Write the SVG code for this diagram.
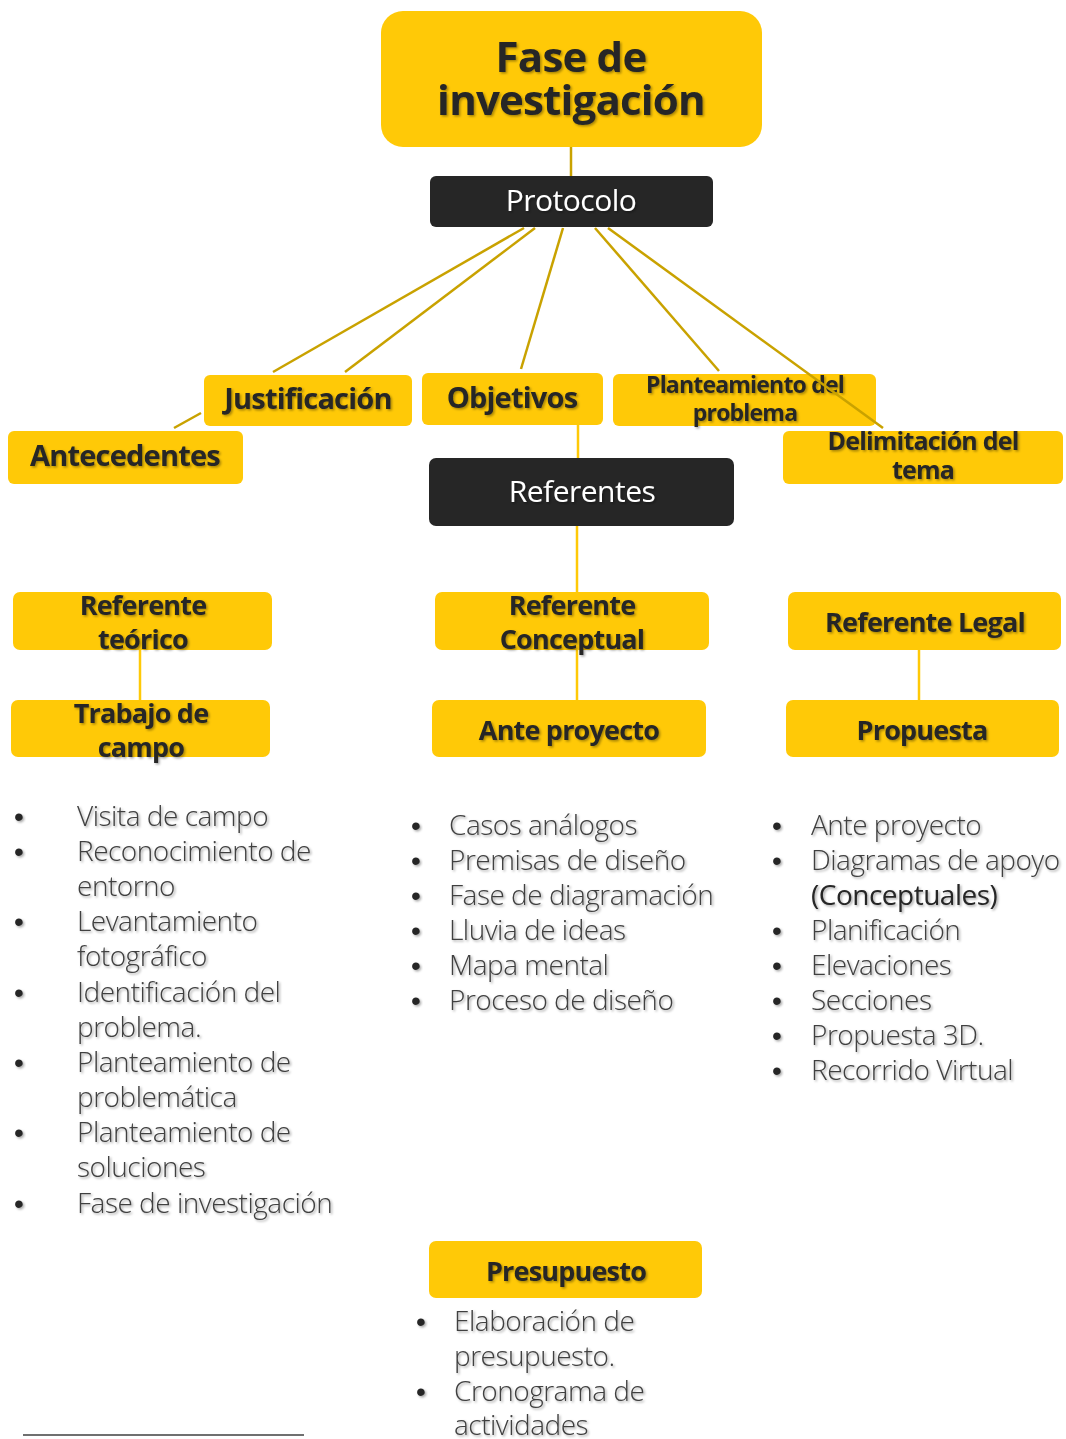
<svg xmlns="http://www.w3.org/2000/svg" width="1066" height="1439" viewBox="0 0 1066 1439">
<defs>
<filter id="sh" x="-10%" y="-20%" width="130%" height="150%">
<feDropShadow dx="1.5" dy="1.5" stdDeviation="0.8" flood-color="#000" flood-opacity="0.35"/>
</filter>
<style>
.y{fill:#FFC907}
.d{fill:#262626}
.t{font-family:"Open Sans","Liberation Sans",sans-serif;font-weight:700;fill:#262626;text-anchor:middle;letter-spacing:-0.8px;filter:url(#sh)}
.w{font-family:"Open Sans","Liberation Sans",sans-serif;font-weight:400;fill:#fff;text-anchor:middle;font-size:30px;letter-spacing:-0.5px;filter:url(#sh)}
.l{font-family:"Open Sans","Liberation Sans",sans-serif;font-weight:300;fill:#404040;font-size:28px;letter-spacing:-0.5px;filter:url(#sh)}
.b{font-family:"Liberation Sans",sans-serif;fill:#262626;font-size:28px;filter:url(#sh)}
.c1{stroke:#C9A200;stroke-width:2.5;fill:none}
.c2{stroke:#FFC907;stroke-width:2.5;fill:none}
</style>
</defs>
<rect width="1066" height="1439" fill="#fff"/>
<g id="connectors">
<line class="c1" x1="571" y1="147" x2="571" y2="176"/>
<line class="c1" x1="524" y1="228" x2="273" y2="372"/>
<line class="c1" x1="535" y1="228" x2="345" y2="372"/>
<line class="c1" x1="563" y1="228" x2="521" y2="369"/>
<line class="c1" x1="595" y1="228" x2="719" y2="371"/>
<line class="c1" x1="201" y1="413" x2="174" y2="428"/>
<line class="c2" x1="578" y1="425" x2="578" y2="458"/>
<line class="c2" x1="577" y1="526" x2="577" y2="700"/>
<line class="c2" x1="140" y1="650" x2="140" y2="700"/>
<line class="c2" x1="919" y1="650" x2="919" y2="700"/>
</g>
<g id="fase">
<rect class="y" x="381" y="11" width="381" height="136" rx="22"/>
<text class="t" x="571" y="72" font-size="42" font-weight="800">Fase de</text>
<text class="t" x="571" y="115" font-size="42" font-weight="800">investigación</text>
</g>
<g id="protocolo">
<rect class="d" x="430" y="176" width="283" height="51" rx="6"/>
<text class="w" x="571" y="211">Protocolo</text>
</g>
<g id="justificacion">
<rect class="y" x="204" y="375" width="208" height="51" rx="6"/>
<text class="t" x="308" y="409" font-size="29">Justificación</text>
</g>
<g id="antecedentes">
<rect class="y" x="8" y="431" width="235" height="53" rx="6"/>
<text class="t" x="125" y="466" font-size="29">Antecedentes</text>
</g>
<g id="objetivos">
<rect class="y" x="422" y="373" width="181" height="52" rx="6"/>
<text class="t" x="512" y="408" font-size="29">Objetivos</text>
</g>
<g id="planteamiento">
<rect class="y" x="613" y="374" width="263" height="52" rx="6"/>
<text class="t" x="745" y="393" font-size="23">Planteamiento del</text>
<text class="t" x="745" y="421" font-size="23">problema</text>
</g>
<g id="delimitacion">
<rect class="y" x="783" y="431" width="280" height="53" rx="6"/>
<text class="t" x="923" y="450" font-size="25">Delimitación del</text>
<text class="t" x="923" y="479" font-size="25">tema</text>
</g>
<line class="c1" x1="608" y1="228" x2="883" y2="428"/>
<g id="referentes">
<rect class="d" x="429" y="458" width="305" height="68" rx="7"/>
<text class="w" x="582" y="502">Referentes</text>
</g>
<g id="ref-teorico">
<rect class="y" x="13" y="592" width="259" height="58" rx="7"/>
<text class="t" x="143" y="615" font-size="27">Referente</text>
<text class="t" x="143" y="649" font-size="27">teórico</text>
</g>
<g id="trabajo-campo">
<rect class="y" x="11" y="700" width="259" height="57" rx="7"/>
<text class="t" x="141" y="723" font-size="27">Trabajo de</text>
<text class="t" x="141" y="757" font-size="27">campo</text>
</g>
<g id="ref-conceptual">
<rect class="y" x="435" y="592" width="274" height="58" rx="7"/>
<text class="t" x="572" y="615" font-size="27">Referente</text>
<text class="t" x="572" y="649" font-size="27">Conceptual</text>
</g>
<g id="ante-proyecto">
<rect class="y" x="432" y="700" width="274" height="57" rx="7"/>
<text class="t" x="569" y="740" font-size="27">Ante proyecto</text>
</g>
<g id="ref-legal">
<rect class="y" x="788" y="592" width="273" height="58" rx="7"/>
<text class="t" x="925" y="632" font-size="27">Referente Legal</text>
</g>
<g id="propuesta">
<rect class="y" x="786" y="700" width="273" height="57" rx="7"/>
<text class="t" x="922" y="740" font-size="27">Propuesta</text>
</g>
<g id="presupuesto">
<rect class="y" x="429" y="1241" width="273" height="57" rx="7"/>
<text class="t" x="566" y="1281" font-size="27">Presupuesto</text>
</g>
<g id="lista-campo">
<text class="b" x="14" y="826">•</text>
<text class="b" x="14" y="861">•</text>
<text class="b" x="14" y="931">•</text>
<text class="b" x="14" y="1002">•</text>
<text class="b" x="14" y="1072">•</text>
<text class="b" x="14" y="1142">•</text>
<text class="b" x="14" y="1213">•</text>
<text class="l" x="77" y="826">Visita de campo</text>
<text class="l" x="77" y="861">Reconocimiento de</text>
<text class="l" x="77" y="896">entorno</text>
<text class="l" x="77" y="931">Levantamiento</text>
<text class="l" x="77" y="966">fotográfico</text>
<text class="l" x="77" y="1002">Identificación del</text>
<text class="l" x="77" y="1037">problema.</text>
<text class="l" x="77" y="1072">Planteamiento de</text>
<text class="l" x="77" y="1107">problemática</text>
<text class="l" x="77" y="1142">Planteamiento de</text>
<text class="l" x="77" y="1177">soluciones</text>
<text class="l" x="77" y="1213">Fase de investigación</text>
</g>
<g id="lista-anteproyecto">
<text class="b" x="411" y="835">•</text>
<text class="b" x="411" y="870">•</text>
<text class="b" x="411" y="905">•</text>
<text class="b" x="411" y="940">•</text>
<text class="b" x="411" y="975">•</text>
<text class="b" x="411" y="1010">•</text>
<text class="l" x="449" y="835">Casos análogos</text>
<text class="l" x="449" y="870">Premisas de diseño</text>
<text class="l" x="449" y="905">Fase de diagramación</text>
<text class="l" x="449" y="940">Lluvia de ideas</text>
<text class="l" x="449" y="975">Mapa mental</text>
<text class="l" x="449" y="1010">Proceso de diseño</text>
</g>
<g id="lista-propuesta">
<text class="b" x="772" y="835">•</text>
<text class="b" x="772" y="870">•</text>
<text class="b" x="772" y="940">•</text>
<text class="b" x="772" y="975">•</text>
<text class="b" x="772" y="1010">•</text>
<text class="b" x="772" y="1045">•</text>
<text class="b" x="772" y="1080">•</text>
<text class="l" x="811" y="835">Ante proyecto</text>
<text class="l" x="811" y="870">Diagramas de apoyo</text>
<text class="l" x="811" y="905" style="font-weight:400;fill:#262626">(Conceptuales)</text>
<text class="l" x="811" y="940">Planificación</text>
<text class="l" x="811" y="975">Elevaciones</text>
<text class="l" x="811" y="1010">Secciones</text>
<text class="l" x="811" y="1045">Propuesta 3D.</text>
<text class="l" x="811" y="1080">Recorrido Virtual</text>
</g>
<g id="lista-presupuesto">
<text class="b" x="416" y="1331">•</text>
<text class="b" x="416" y="1401">•</text>
<text class="l" x="454" y="1331">Elaboración de</text>
<text class="l" x="454" y="1366">presupuesto.</text>
<text class="l" x="454" y="1401">Cronograma de</text>
<text class="l" x="454" y="1435">actividades</text>
</g>
<line x1="23" y1="1435" x2="304" y2="1435" stroke="#404040" stroke-width="1.5"/>
</svg>
